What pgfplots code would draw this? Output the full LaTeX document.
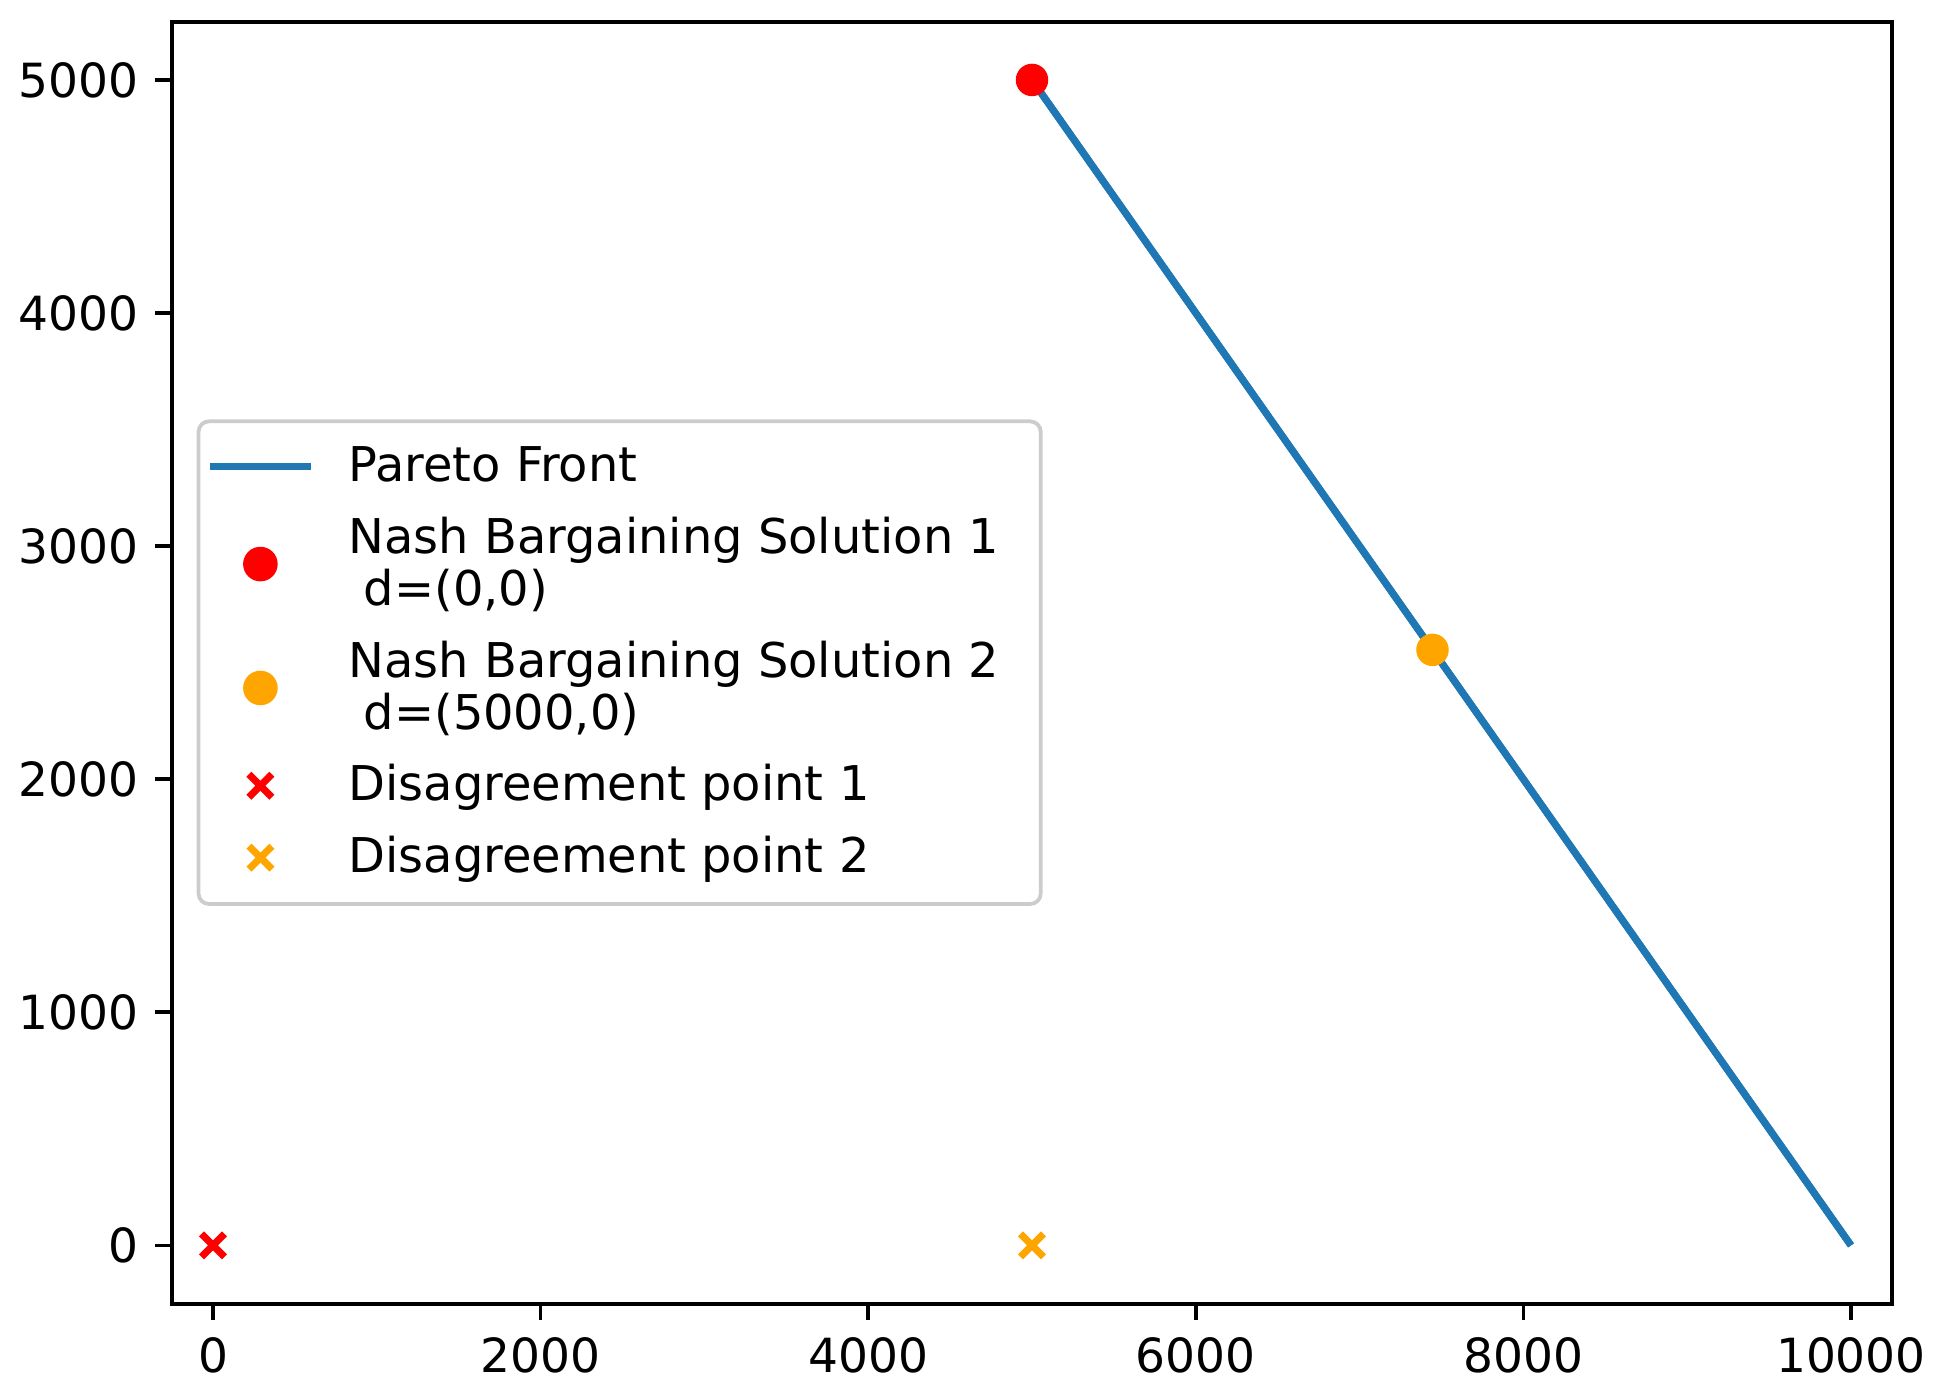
\documentclass[border=0pt]{standalone}
\usepackage{pgfplots}
\pgfplotsset{compat=1.18}
\usepackage{fontspec}
\setmainfont{DejaVu Sans}
\definecolor{mplblue}{HTML}{1F77B4}
\definecolor{mplorange}{HTML}{FFA500}
\definecolor{mplred}{HTML}{FF0000}
\newcommand{\padr}{\hbox to 6.2pt{}}
\begin{document}
\begin{tikzpicture}
\useasboundingbox (0,0) rectangle (465.4pt,335.5pt);
\begin{axis}[
  at={(41.3pt,22.6pt)}, anchor=south west,
  scale only axis, width=412.8pt, height=307.7pt,
  xmin=-250, xmax=10250, ymin=-250, ymax=5250,
  xtick={0,2000,4000,6000,8000,10000},
  ytick={0,1000,2000,3000,4000,5000},
  scaled ticks=false,
  /pgf/number format/assume math mode=true,
  /pgf/number format/1000 sep={},
  tick align=outside, tick pos=left,
  major tick length=4pt,
  every tick/.style={black, line width=0.9pt},
  axis line style={line width=0.9pt},
  ticklabel style={font=\fontsize{11.3}{13}\selectfont},
  xticklabel style={yshift=-0.5pt},
  yticklabel style={xshift=-0.5pt},
  legend style={
    at={(0.0143,0.5)}, anchor=west,
    draw=black!20, line width=0.9pt, rounded corners=2.5pt,
    font=\fontsize{11.5}{12.5}\selectfont,
    inner xsep=1.8pt, inner ysep=4pt,
    row sep=3.0pt,
    column sep=6.1pt,
    cells={anchor=west, align=left},
  },
  legend image code/.code={
    \draw[mark repeat=2,mark phase=2]
      plot coordinates {(0pt,0pt) (12.2pt,0pt) (24.4pt,0pt)};
  },
]
\addplot[mplblue, line width=1.7pt] coordinates {(5000,5000) (10000,0)};
\addlegendentry{Pareto Front}
\addplot[only marks, mark=*, mark size=3.7pt, mplred, mark options={draw=mplred, fill=mplred}] coordinates {(5000,5000)};
\addlegendentry{Nash Bargaining Solution 1\padr\\\ d=(0,0)}
\addplot[only marks, mark=*, mark size=3.7pt, mplorange, mark options={draw=mplorange, fill=mplorange}] coordinates {(7445,2555)};
\addlegendentry{Nash Bargaining Solution 2\padr\\\ d=(5000,0)}
\addplot[only marks, mark=x, mark size=3.9pt, mplred, line width=1.7pt] coordinates {(0,0)};
\addlegendentry{Disagreement point 1}
\addplot[only marks, mark=x, mark size=3.9pt, mplorange, line width=1.7pt] coordinates {(5000,0)};
\addlegendentry{Disagreement point 2}
\addplot[mplblue, line width=1.7pt, forget plot] coordinates {(5000,5000) (10000,0)};
\end{axis}
\end{tikzpicture}
\end{document}
